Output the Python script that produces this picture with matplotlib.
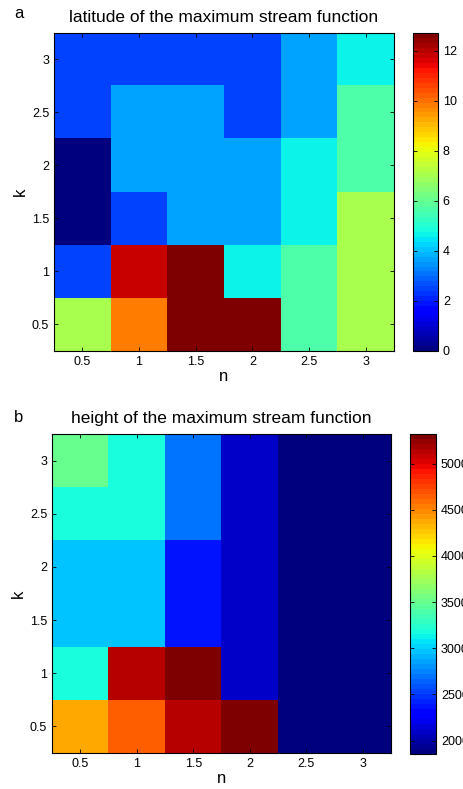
import numpy as np
import matplotlib
matplotlib.use('Agg')
import matplotlib.pyplot as plt

plt.rcParams['font.family'] = ['Liberation Sans', 'DejaVu Sans']

n_vals = [0.5, 1, 1.5, 2, 2.5, 3]
k_vals = [0.5, 1, 1.5, 2, 2.5, 3]

# rows: k = 0.5 ... 3, columns: n = 0.5 ... 3
lat_k05 = [7.0, 9.9, 12.7, 12.7, 5.7, 7.0]
lat_k10 = [2.5, 11.8, 12.7, 4.7, 5.7, 7.0]
lat_k15 = [0.0, 2.5, 3.6, 3.6, 4.7, 7.0]
lat_k20 = [0.0, 3.6, 3.6, 3.6, 4.7, 5.7]
lat_k25 = [2.5, 3.6, 3.6, 2.5, 3.6, 5.7]
lat_k30 = [2.5, 2.5, 2.5, 2.5, 3.6, 4.7]

hgt_k05 = [4360, 4660, 5130, 5320, 1855, 1855]
hgt_k10 = [3170, 5130, 5320, 2100, 1855, 1855]
hgt_k15 = [2940, 2940, 2395, 2100, 1855, 1855]
hgt_k20 = [2940, 2940, 2395, 2100, 1855, 1855]
hgt_k25 = [3170, 3170, 2670, 2100, 1855, 1855]
hgt_k30 = [3480, 3170, 2670, 2100, 1855, 1855]

lat = np.array([lat_k05, lat_k10, lat_k15, lat_k20, lat_k25, lat_k30])
hgt = np.array([hgt_k05, hgt_k10, hgt_k15, hgt_k20, hgt_k25, hgt_k30])

lat_ticks = [0, 2, 4, 6, 8, 10, 12]
hgt_ticks = [2000, 2500, 3000, 3500, 4000, 4500, 5000]

cmap = plt.get_cmap('jet', 64)
W, H = 463, 789


def draw_panel(fig, data, ax_px, cb_px, title, letter, letter_y, cticks):
    # pixel boxes (x0, y0, x1, y1) from top-left
    x0, y0, x1, y1 = ax_px
    ax = fig.add_axes([x0 / W, 1 - y1 / H, (x1 - x0) / W, (y1 - y0) / H])
    d = 0.25
    im = ax.imshow(data, origin='lower', cmap=cmap, aspect='auto',
                   extent=[n_vals[0] - d, n_vals[-1] + d, k_vals[0] - d, k_vals[-1] + d],
                   interpolation='nearest', vmin=data.min(), vmax=data.max())
    ax.set_xticks(n_vals)
    ax.set_xticklabels(['0.5', '1', '1.5', '2', '2.5', '3'])
    ax.set_yticks(k_vals)
    ax.set_yticklabels(['0.5', '1', '1.5', '2', '2.5', '3'])
    ax.tick_params(direction='in', top=True, right=True, labelsize=9, length=3, width=0.6)
    ax.set_xlabel('n', fontsize=12, labelpad=1)
    ax.set_ylabel('k', fontsize=12, labelpad=3)
    ax.set_title(title, fontsize=12.5, pad=8)
    for s in ax.spines.values():
        s.set_linewidth(0.8)
    fig.text(19 / W, 1 - letter_y / H, letter, fontsize=12, ha='center', va='center')

    cx0, cy0, cx1, cy1 = cb_px
    cax = fig.add_axes([cx0 / W, 1 - cy1 / H, (cx1 - cx0) / W, (cy1 - cy0) / H])
    cb = fig.colorbar(im, cax=cax, ticks=cticks)
    cb.ax.tick_params(direction='in', left=True, right=True, labelsize=9, length=3, width=0.6)
    cb.outline.set_linewidth(0.8)
    return ax


fig = plt.figure(figsize=(W / 100, H / 100), dpi=100)

draw_panel(fig, lat, (54, 33, 394, 351), (413, 33, 438, 351),
           'latitude of the maximum stream function', 'a', 13, lat_ticks)
draw_panel(fig, hgt, (52, 434, 391, 753), (410, 434, 436, 754),
           'height of the maximum stream function', 'b', 418, hgt_ticks)

fig.savefig('out.png', dpi=100)
